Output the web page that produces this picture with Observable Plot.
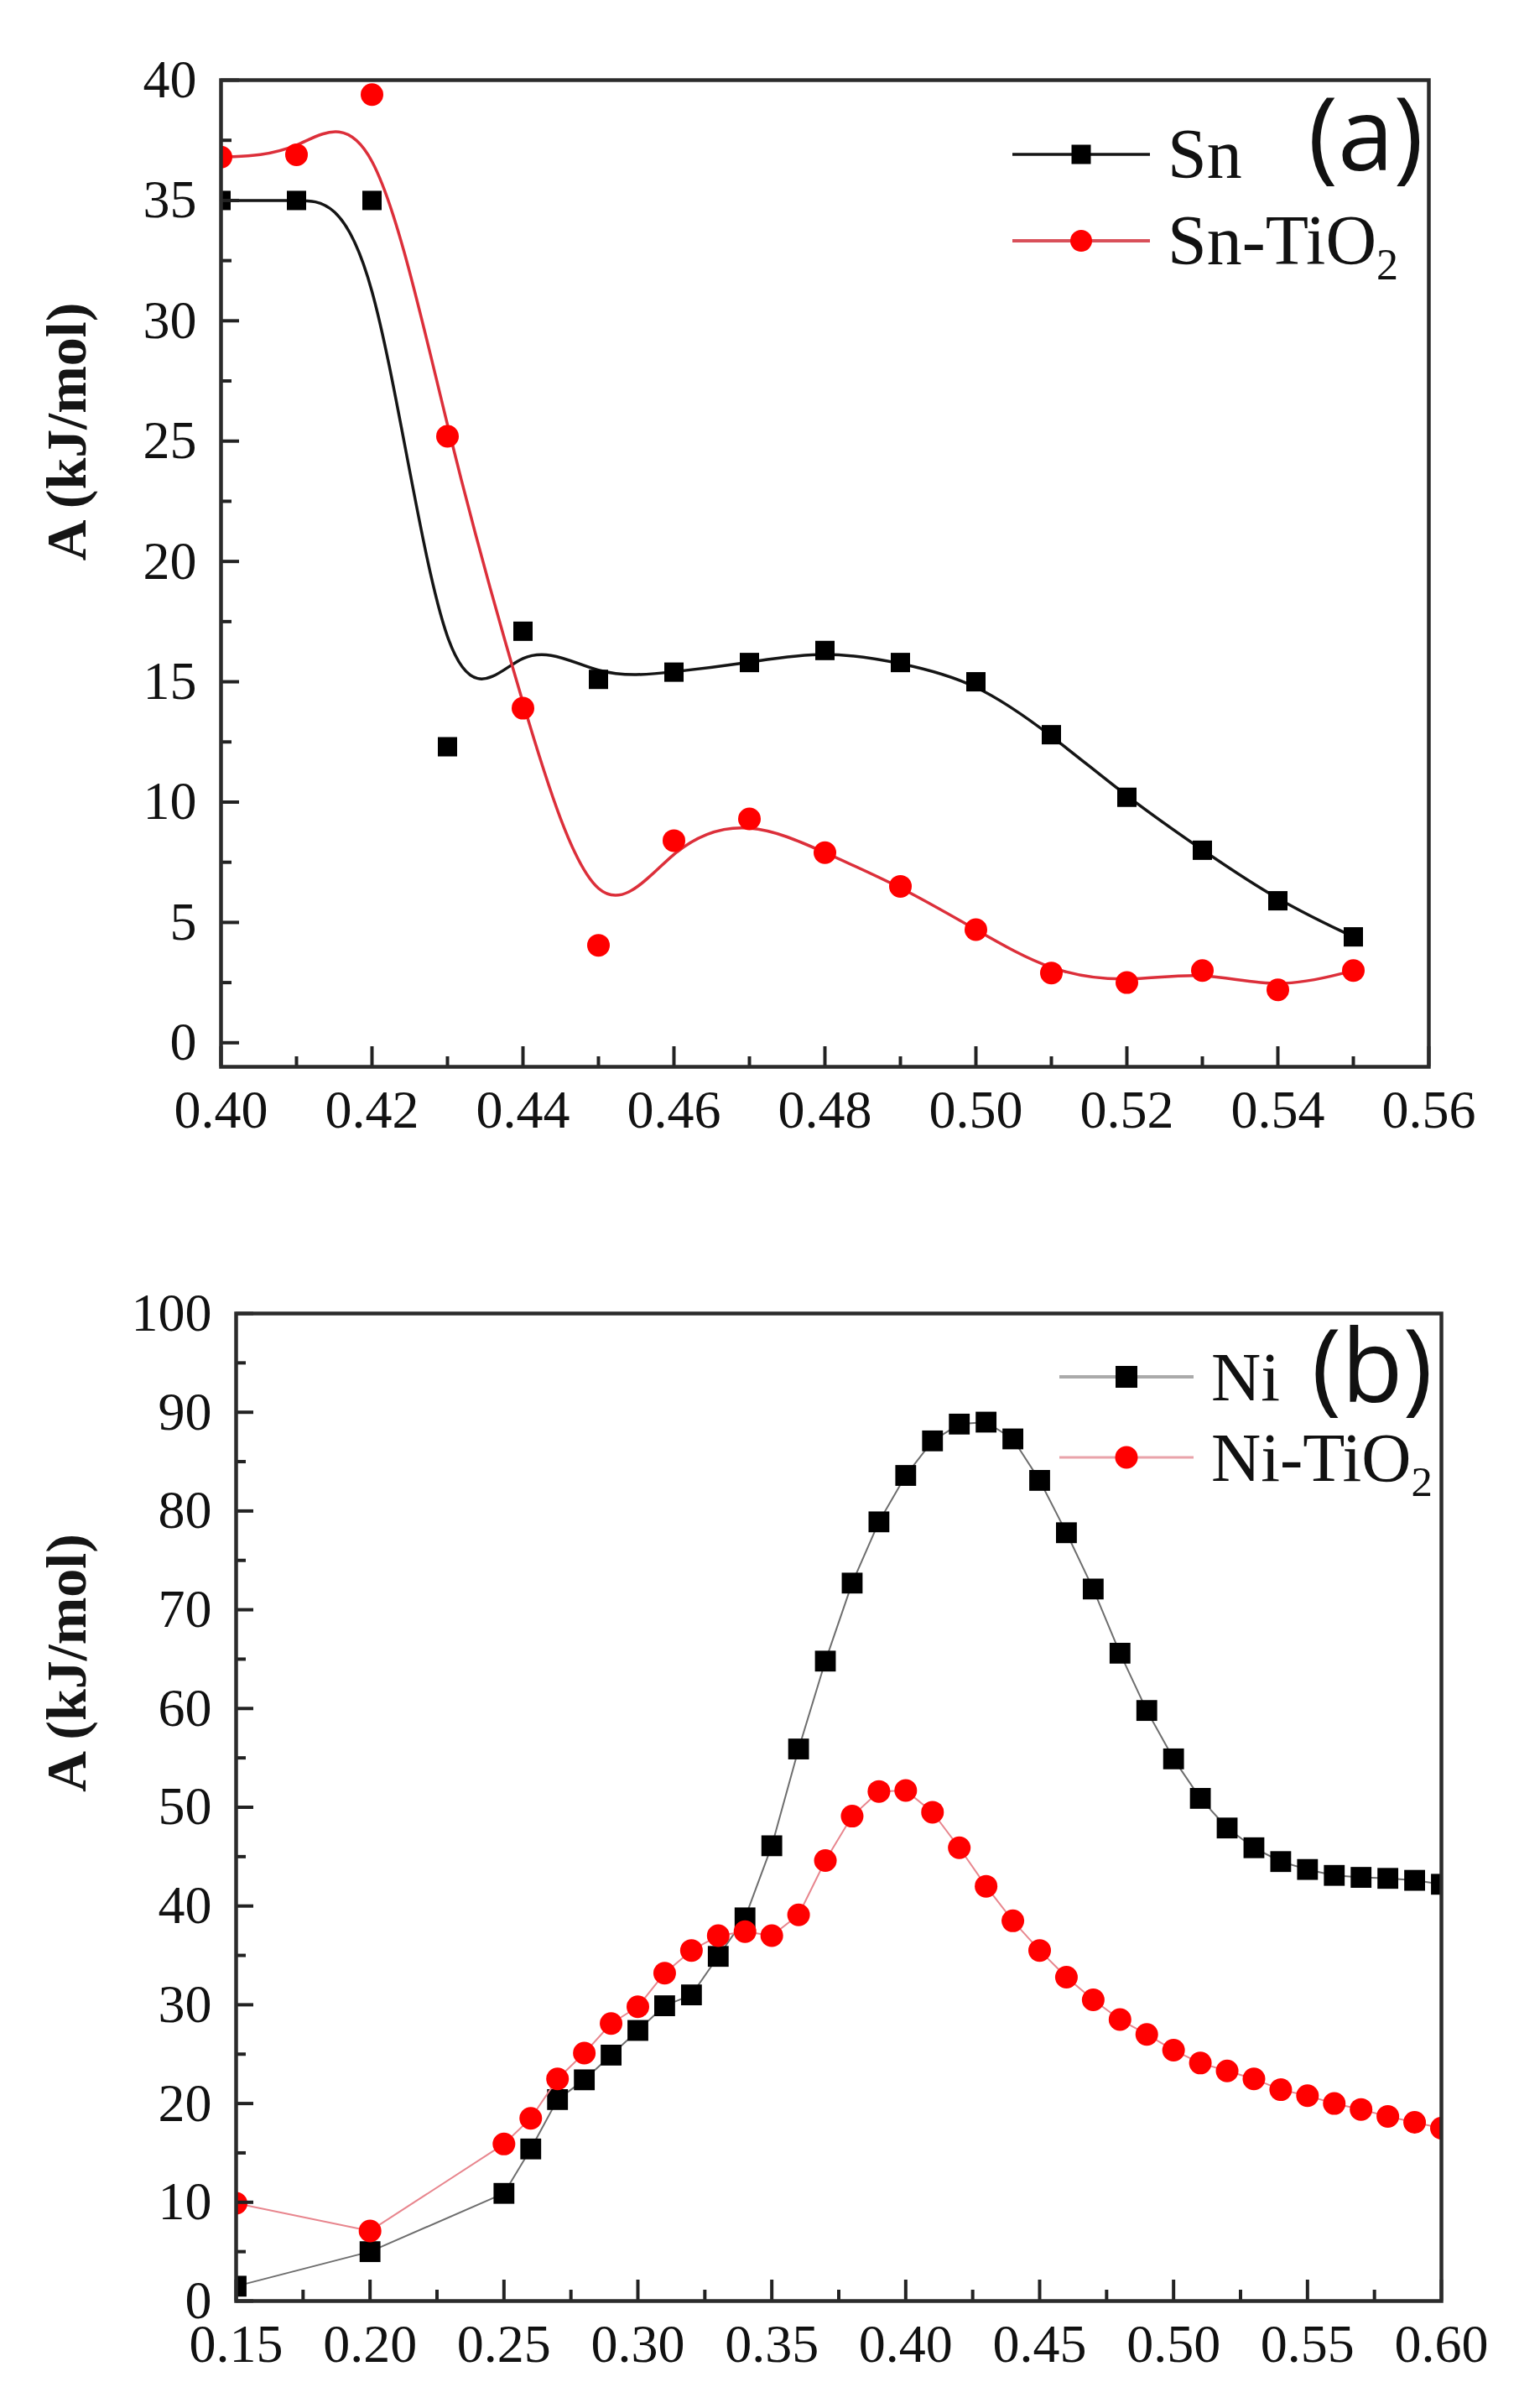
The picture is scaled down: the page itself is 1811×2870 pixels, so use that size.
<!DOCTYPE html>
<html>
<head>
<meta charset="utf-8">
<script src="https://cdn.jsdelivr.net/npm/d3@7"></script>
<script src="https://cdn.jsdelivr.net/npm/@observablehq/plot@0.6"></script>
<style>
  body { margin: 0; background: #fff; }
  #wrap { position: relative; width: 1811px; height: 2870px; }
  #panel-a { position: absolute; left: 0; top: 0; }
  #panel-b { position: absolute; left: 0; top: 1400px; }
  #overlay { position: absolute; left: 0; top: 0; pointer-events: none; }
</style>
</head>
<body>
<div id="wrap">
  <div id="panel-a"></div>
  <div id="panel-b"></div>
  <svg id="overlay" width="1811" height="2870"></svg>
</div>
<script>
// panel (a): Sn vs Sn-TiO2
const potA = [0.40, 0.41, 0.42, 0.43, 0.44, 0.45, 0.46, 0.47, 0.48, 0.49, 0.50, 0.51, 0.52, 0.53, 0.54, 0.55];
const snA = [35.0, 35.0, 35.0, 12.3, 17.1, 15.1, 15.4, 15.8, 16.3, 15.8, 15.0, 12.8, 10.2, 8.0, 5.9, 4.4];
const snTiO2A = [36.8, 36.9, 39.4, 25.2, 13.9, 4.05, 8.4, 9.3, 7.9, 6.5, 4.7, 2.9, 2.5, 3.0, 2.2, 3.0];

const xTicksA = [0.40, 0.42, 0.44, 0.46, 0.48, 0.50, 0.52, 0.54, 0.56];
const xMinorA = [0.41, 0.43, 0.45, 0.47, 0.49, 0.51, 0.53, 0.55];
const yTicksA = [0, 5, 10, 15, 20, 25, 30, 35, 40];
const yMinorA = [2.5, 7.5, 12.5, 17.5, 22.5, 27.5, 32.5, 37.5];

// panel (b): Ni vs Ni-TiO2
const potB = [0.15, 0.20, 0.25, 0.26, 0.27, 0.28, 0.29, 0.30, 0.31, 0.32, 0.33, 0.34, 0.35, 0.36, 0.37,
  0.38, 0.39, 0.40, 0.41, 0.42, 0.43, 0.44, 0.45, 0.46, 0.47, 0.48, 0.49, 0.50, 0.51, 0.52, 0.53,
  0.54, 0.55, 0.56, 0.57, 0.58, 0.59, 0.60];
const niB = [1.5, 5.0, 10.9, 15.4, 20.4, 22.4, 24.9, 27.4, 29.9, 31.0, 34.9, 38.8, 46.1, 55.9, 64.8,
  72.7, 78.9, 83.6, 87.1, 88.8, 89.0, 87.3, 83.1, 77.8, 72.1, 65.6, 59.8, 54.9, 50.9, 47.9, 45.9,
  44.5, 43.7, 43.1, 42.9, 42.8, 42.6, 42.2];
const niTiO2B = [9.9, 7.1, 15.9, 18.5, 22.5, 25.1, 28.1, 29.8, 33.2, 35.5, 37.0, 37.4, 37.0, 39.1, 44.6,
  49.1, 51.6, 51.7, 49.5, 45.9, 42.0, 38.5, 35.5, 32.8, 30.5, 28.5, 27.0, 25.4, 24.1, 23.3, 22.5,
  21.4, 20.8, 20.0, 19.4, 18.7, 18.1, 17.5];

const xTicksB = [0.15, 0.20, 0.25, 0.30, 0.35, 0.40, 0.45, 0.50, 0.55, 0.60];
const xMinorB = [0.175, 0.225, 0.275, 0.325, 0.375, 0.425, 0.475, 0.525, 0.575];
const yTicksB = [0, 10, 20, 30, 40, 50, 60, 70, 80, 90, 100];
const yMinorB = [5, 15, 25, 35, 45, 55, 65, 75, 85, 95];

const yLabel = "A (kJ/mol)";
const serif = "'Liberation Serif', 'Times New Roman', serif";

function frameMarks(o) {
  // inward ticks, frame, tick labels and rotated y label
  const fw = o.width - o.marginLeft - o.marginRight;
  const fh = o.height - o.marginTop - o.marginBottom;
  return [
    Plot.tickX(o.xTicks, {x: (d) => d, insetTop: fh - o.xMajor, stroke: "#222", strokeWidth: 4}),
    Plot.tickX(o.xMinor, {x: (d) => d, insetTop: fh - o.xMinorLen, stroke: "#222", strokeWidth: 4}),
    Plot.tickY(o.yTicks, {y: (d) => d, insetRight: fw - o.yMajor, stroke: "#222", strokeWidth: 4}),
    Plot.tickY(o.yMinor, {y: (d) => d, insetRight: fw - o.yMinorLen, stroke: "#222", strokeWidth: 4}),
    Plot.frame({stroke: "#2b2b2b", strokeWidth: 4.5}),
    Plot.axisX({ticks: o.xTicks, tickSize: 0, tickPadding: 27, tickFormat: ".2f", label: null, fill: "#111"}),
    Plot.axisY({ticks: o.yTicks, tickSize: 0, tickPadding: 29, label: null, fill: "#111"}),
    Plot.text([yLabel], {
      text: (d) => d,
      frameAnchor: "left",
      dx: -(o.marginLeft - 80),
      dy: o.labelDy,
      rotate: -90,
      fontSize: 68,
      fontWeight: "bold",
      fill: "#151515"
    })
  ];
}

// ---- panel (a)
const rowsA = potA.map((p, i) => ({p, sn: snA[i], snt: snTiO2A[i]}));
const optA = {
  width: 1811, height: 1400, marginTop: 95, marginBottom: 129, marginLeft: 263, marginRight: 108,
  xTicks: xTicksA, xMinor: xMinorA, yTicks: yTicksA, yMinor: yMinorA,
  xMajor: 24, xMinorLen: 12, yMajor: 22, yMinorLen: 13, labelDy: -15
};
const chartA = Plot.plot({
  width: optA.width,
  height: optA.height,
  marginTop: optA.marginTop,
  marginBottom: optA.marginBottom,
  marginLeft: optA.marginLeft,
  marginRight: optA.marginRight,
  style: {fontFamily: serif, fontSize: "64px", background: "white"},
  x: {domain: [0.40, 0.56]},
  y: {domain: [-1, 40]},
  marks: [
    Plot.line(rowsA, {x: "p", y: "sn", curve: "basis", stroke: "#151515", strokeWidth: 3.5}),
    Plot.line(rowsA, {x: "p", y: "snt", curve: "basis", stroke: "#dc2f3a", strokeWidth: 3.5}),
    Plot.dot(rowsA, {x: "p", y: "sn", symbol: "square", r: 13, fill: "black", clip: true}),
    Plot.dot(rowsA, {x: "p", y: "snt", symbol: "circle", r: 13.5, fill: "#ff0000", clip: true}),
    ...frameMarks(optA)
  ]
});
document.getElementById("panel-a").appendChild(chartA);

// ---- panel (b)
const rowsB = potB.map((p, i) => ({p, ni: niB[i], nit: niTiO2B[i]}));
const optB = {
  width: 1811, height: 1470, marginTop: 165, marginBottom: 128, marginLeft: 281, marginRight: 93,
  xTicks: xTicksB, xMinor: xMinorB, yTicks: yTicksB, yMinor: yMinorB,
  xMajor: 25, xMinorLen: 13, yMajor: 21, yMinorLen: 12, labelDy: -18
};
const chartB = Plot.plot({
  width: optB.width,
  height: optB.height,
  marginTop: optB.marginTop,
  marginBottom: optB.marginBottom,
  marginLeft: optB.marginLeft,
  marginRight: optB.marginRight,
  style: {fontFamily: serif, fontSize: "64px", background: "white"},
  x: {domain: [0.15, 0.60]},
  y: {domain: [0, 100]},
  marks: [
    Plot.line(rowsB, {x: "p", y: "ni", stroke: "#6e6e6e", strokeWidth: 2}),
    Plot.dot(rowsB, {x: "p", y: "ni", symbol: "square", r: 14, fill: "black", clip: true}),
    Plot.line(rowsB, {x: "p", y: "nit", stroke: "#e8868e", strokeWidth: 2}),
    Plot.dot(rowsB, {x: "p", y: "nit", symbol: "circle", r: 13.5, fill: "#ff0000", clip: true}),
    ...frameMarks(optB)
  ]
});
document.getElementById("panel-b").appendChild(chartB);

// ---- legends and panel letters (drawn inside the frames)
const overlay = d3.select("#overlay");

function legendRow(g, x0, x1, y, color, lineWidth, symbol, size, name, sub, fontSize) {
  g.append("line").attr("x1", x0).attr("x2", x1).attr("y1", y).attr("y2", y)
    .attr("stroke", color).attr("stroke-width", lineWidth);
  const cx = (x0 + x1) / 2;
  if (symbol === "square") {
    g.append("rect").attr("x", cx - size / 2).attr("y", y - size / 2)
      .attr("width", size).attr("height", size).attr("fill", "black");
  } else {
    g.append("circle").attr("cx", cx).attr("cy", y).attr("r", size / 2).attr("fill", "#ff0000");
  }
  const t = g.append("text").attr("x", x1 + 21).attr("y", y + 28)
    .attr("font-family", serif).attr("font-size", fontSize).attr("fill", "#111").text(name);
  if (sub) {
    t.append("tspan").attr("font-size", fontSize * 0.62).attr("dy", 18).text(sub);
  }
}

const legA = overlay.append("g");
legendRow(legA, 1207, 1371, 184, "#151515", 3.5, "square", 23, "Sn", null, 84);
legendRow(legA, 1207, 1371, 287, "#d9505a", 4, "circle", 26, "Sn-TiO", "2", 84);
overlay.append("text").attr("x", 1697).attr("y", 203).attr("text-anchor", "end")
  .attr("font-family", "'Open Sans', sans-serif").attr("font-size", 120).attr("fill", "#111").text("(a)");

const legB = overlay.append("g");
legendRow(legB, 1263, 1423, 1641, "#aaaaaa", 4, "square", 26, "Ni", null, 82);
legendRow(legB, 1263, 1423, 1737, "#e9a3aa", 3, "circle", 27, "Ni-TiO", "2", 82);
overlay.append("text").attr("x", 1708).attr("y", 1671).attr("text-anchor", "end")
  .attr("font-family", "'Open Sans', sans-serif").attr("font-size", 120).attr("fill", "#111").text("(b)");
</script>
</body>
</html>
